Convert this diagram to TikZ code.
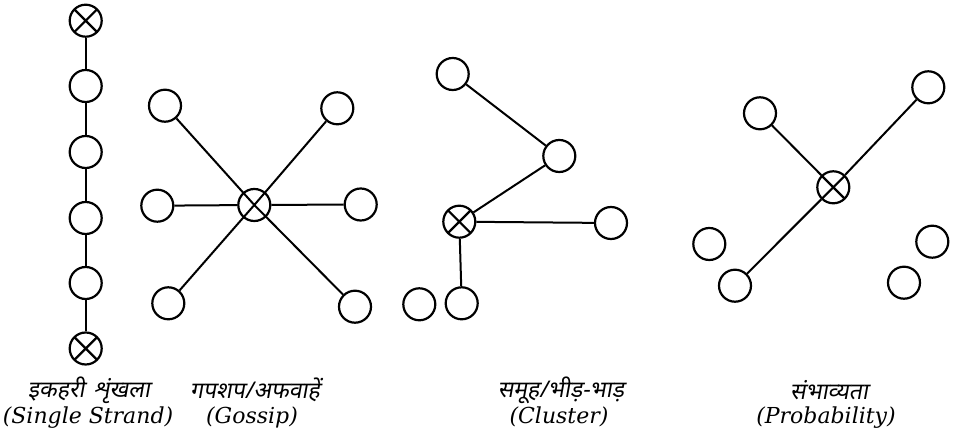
\documentclass[tikz,border=0pt]{standalone}
\usepackage{fontspec}
\newfontfamily\hindi[Script=Devanagari,FakeSlant=0.18]{Noto Sans}
\newfontfamily\capfont{DejaVu Serif}
\begin{document}
\begin{tikzpicture}[x=1pt,y=-1pt,
  nd/.style={circle,draw,line width=2.2pt,minimum size=32pt,inner sep=0pt},
  xnd/.style={nd,path picture={\draw[line width=2.2pt]
      (path picture bounding box.north west) -- (path picture bounding box.south east)
      (path picture bounding box.north east) -- (path picture bounding box.south west);}},
  link/.style={line width=2pt},
  hi/.style={font=\hindi\fontsize{23}{26}\selectfont,inner sep=0pt},
  en/.style={font=\capfont\itshape\fontsize{22}{26}\selectfont,inner sep=0pt,anchor=base}]
\useasboundingbox (0,0) rectangle (959,438);

% single strand
\node[xnd] (s1) at (85.7,20.7) {};
\node[nd]  (s2) at (85.7,86) {};
\node[nd]  (s3) at (85.7,152) {};
\node[nd]  (s4) at (85.7,218) {};
\node[nd]  (s5) at (85.7,283) {};
\node[xnd] (s6) at (85.7,348.5) {};
\draw[link] (s1) -- (s2) (s2) -- (s3) (s3) -- (s4) (s4) -- (s5) (s5) -- (s6);

% gossip
\node[nd] (g0) at (254.3,205) {};
\node[nd] (g1) at (165,105.7) {};
\node[nd] (g2) at (337.3,108.3) {};
\node[nd] (g3) at (157.3,205.7) {};
\node[nd] (g4) at (360.7,204.5) {};
\node[nd] (g5) at (168.3,303.3) {};
\node[nd] (g6) at (355,306.7) {};
\draw[link] (g1) -- (g0.center) (g2) -- (g0.center) (g5) -- (g0.center) (g6) -- (g0.center)
  (g3) -- (g0) (g4) -- (g0);

% cluster
\node[xnd] (c0) at (459.3,221.7) {};
\node[nd] (c1) at (452.7,74) {};
\node[nd] (c2) at (559.3,156) {};
\node[nd] (c3) at (611,223) {};
\node[nd] (c4) at (461.7,303.3) {};
\node[nd] (c5) at (419.3,304.3) {};
\draw[link] (c1) -- (c2) (c2) -- (c0) (c0) -- (c3) (c0) -- (c4);

% probability
\node[xnd] (p0) at (833.3,187.3) {};
\node[nd] (p1) at (760,113.3) {};
\node[nd] (p2) at (928.3,87.3) {};
\node[nd] (p3) at (709.3,244) {};
\node[nd] (p4) at (735,285.7) {};
\node[nd] (p5) at (932.3,241.7) {};
\node[nd] (p6) at (904,282.7) {};
\draw[link] (p1) -- (p0) (p2) -- (p0) (p4) -- (p0);

% captions
\node[hi] (h1) at (89,390) {इकहरी\hspace{0.4em}शृंखला};
\node[en] (e1) at (88,423) {(Single Strand)};
\node[hi] (h2) at (255,390) {गपशप/अफवाहें};
\node[en] (e2) at (252,423) {(Gossip)};
\node[hi] (h3) at (561,390) {समूह/भीड़-भाड़};
\node[en] (e3) at (559,423) {(Cluster)};
\node[hi] (h4) at (829,390) {संभाव्यता};
\node[en] (e4) at (826,423) {(Probability)};
\end{tikzpicture}
\end{document}
